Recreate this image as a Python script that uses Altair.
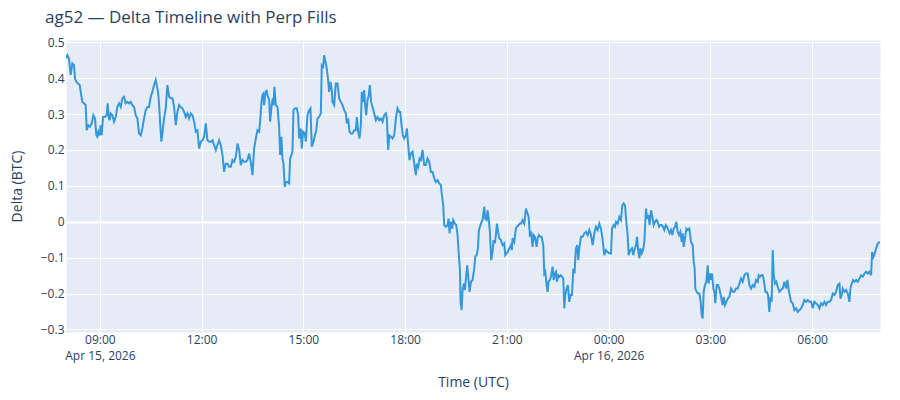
import altair as alt
import pandas as pd

TITLE = "ag52 — Delta Timeline with Perp Fills"

# (minutes after 2026-04-15 08:00 UTC, delta in BTC)
delta_0800_1100 = [
    (0, 0.455), (2.4, 0.464), (5.3, 0.455), (8.3, 0.409), (11.2, 0.441), (14.2, 0.436), (15.9, 0.399),
    (18.3, 0.390), (21.2, 0.385), (24.2, 0.381), (26.0, 0.362), (28.9, 0.334), (31.9, 0.330), (34.8, 0.325),
    (36.6, 0.255), (39.5, 0.269), (42.5, 0.265), (45.4, 0.274), (48.4, 0.297), (51.3, 0.288), (53.7, 0.241),
    (55.5, 0.237), (57.2, 0.251), (59.6, 0.241), (61.4, 0.269), (63.1, 0.241), (65.5, 0.292), (68.4, 0.292),
    (72.0, 0.297), (73.7, 0.330), (75.5, 0.292), (77.3, 0.283), (79.1, 0.302), (82.0, 0.297), (85.0, 0.279),
    (87.9, 0.292), (90.9, 0.320), (93.8, 0.330), (96.8, 0.320), (99.7, 0.344), (102.7, 0.348), (105.6, 0.330),
    (108.6, 0.334), (111.5, 0.330), (114.5, 0.334), (117.4, 0.325), (120.4, 0.320), (123.3, 0.297), (126.3, 0.288),
    (129.2, 0.246), (132.2, 0.241), (135.1, 0.260), (138.1, 0.288), (141.0, 0.311), (144.0, 0.320), (146.9, 0.320),
    (149.9, 0.348), (152.8, 0.362), (155.8, 0.381), (158.7, 0.395), (160.5, 0.381), (162.8, 0.362), (164.6, 0.330),
    (166.4, 0.279), (168.7, 0.223), (170.5, 0.246), (173.5, 0.288), (176.4, 0.316),
]
delta_1100_1400 = [
    (179.4, 0.381), (182.4, 0.348), (185.3, 0.344), (188.3, 0.344), (191.2, 0.320), (194.2, 0.269), (197.1, 0.306),
    (200.1, 0.325), (203.0, 0.320), (206.0, 0.316), (208.9, 0.306), (211.9, 0.292), (214.8, 0.302), (217.8, 0.288),
    (220.7, 0.302), (223.7, 0.297), (226.6, 0.279), (229.6, 0.251), (232.5, 0.255), (235.5, 0.204), (238.4, 0.223),
    (241.4, 0.227), (244.3, 0.237), (247.3, 0.274), (250.2, 0.227), (253.2, 0.223), (256.1, 0.223), (259.1, 0.227),
    (262.0, 0.214), (265.0, 0.200), (267.9, 0.214), (270.9, 0.227), (273.8, 0.214), (276.8, 0.186), (279.7, 0.139),
    (282.7, 0.162), (285.6, 0.162), (288.6, 0.153), (291.5, 0.153), (294.5, 0.172), (297.4, 0.167), (300.4, 0.181),
    (303.3, 0.218), (306.3, 0.200), (309.2, 0.158), (312.2, 0.172), (315.1, 0.167), (318.1, 0.167), (321.0, 0.172),
    (324.0, 0.190), (326.9, 0.167), (329.9, 0.130), (332.8, 0.204), (335.8, 0.232), (338.7, 0.255), (341.7, 0.251),
    (343.4, 0.279), (345.8, 0.334), (347.6, 0.353), (349.3, 0.357), (350.5, 0.325), (352.3, 0.353), (354.6, 0.367),
    (356.4, 0.353), (359.4, 0.339), (361.1, 0.279), (363.5, 0.320), (365.8, 0.344),
]
delta_1400_1700 = [
    (367.0, 0.325), (368.7, 0.376), (371.1, 0.325), (374.1, 0.320), (377.0, 0.265), (378.8, 0.186), (381.1, 0.237),
    (382.9, 0.176), (384.7, 0.162), (387.0, 0.097), (388.8, 0.111), (391.8, 0.111), (394.7, 0.107), (396.5, 0.176),
    (398.8, 0.186), (400.6, 0.195), (402.4, 0.311), (405.3, 0.316), (408.3, 0.316), (410.6, 0.297), (412.4, 0.232),
    (415.4, 0.260), (417.1, 0.204), (419.5, 0.251), (422.4, 0.246), (424.2, 0.223), (427.2, 0.297), (430.1, 0.311),
    (432.5, 0.316), (434.8, 0.209), (437.8, 0.223), (440.1, 0.241), (442.5, 0.251), (444.9, 0.288), (447.8, 0.292),
    (450.8, 0.302), (452.5, 0.436), (454.9, 0.432), (456.7, 0.464), (458.4, 0.450), (460.8, 0.432), (463.1, 0.404),
    (465.5, 0.362), (467.9, 0.390), (470.2, 0.367), (471.4, 0.334), (474.4, 0.325), (477.3, 0.385), (480.3, 0.385),
    (483.2, 0.344), (486.2, 0.334), (489.1, 0.325), (492.1, 0.311), (495.0, 0.302), (496.8, 0.274), (499.1, 0.288),
    (501.5, 0.251), (503.9, 0.246), (506.8, 0.246), (509.8, 0.255), (512.7, 0.255), (514.5, 0.292), (516.8, 0.251),
    (519.2, 0.232), (521.6, 0.269), (523.3, 0.362), (525.7, 0.334), (527.5, 0.367), (529.2, 0.325), (531.0, 0.297),
    (533.4, 0.339), (535.7, 0.353), (537.5, 0.381), (539.8, 0.334), (542.2, 0.320),
]
delta_1700_2000 = [
    (545.2, 0.302), (548.2, 0.283), (551.1, 0.292), (554.1, 0.283), (557.0, 0.288), (560.0, 0.279), (562.9, 0.297),
    (565.9, 0.302), (567.6, 0.288), (568.8, 0.241), (570.0, 0.200), (571.8, 0.241), (574.7, 0.237), (577.7, 0.232),
    (580.6, 0.241), (583.6, 0.288), (586.5, 0.316), (589.5, 0.306), (591.2, 0.306), (593.6, 0.269), (595.9, 0.241),
    (598.3, 0.232), (601.3, 0.241), (603.0, 0.260), (604.2, 0.237), (606.0, 0.200), (607.7, 0.172), (610.1, 0.190),
    (613.1, 0.195), (614.8, 0.176), (617.2, 0.149), (619.0, 0.130), (620.7, 0.162), (623.1, 0.153), (625.4, 0.176),
    (627.8, 0.172), (630.8, 0.200), (633.7, 0.158), (636.7, 0.158), (639.6, 0.176), (642.6, 0.167), (645.5, 0.139),
    (648.5, 0.139), (651.4, 0.121), (654.4, 0.111), (657.3, 0.116), (660.3, 0.107), (663.2, 0.102), (665.0, 0.074),
    (667.3, 0.046), (669.1, -0.009), (672.1, -0.014), (675.0, -0.009), (676.8, 0.009), (678.5, -0.032), (680.9, 0.000),
    (683.3, -0.019), (685.0, 0.005), (688.0, -0.005), (690.3, -0.009), (692.7, -0.037), (695.1, -0.097), (696.8, -0.130),
    (698.0, -0.223), (699.8, -0.246), (701.6, -0.190), (703.9, -0.172), (705.7, -0.190), (708.0, -0.149), (709.8, -0.121),
    (711.6, -0.153), (713.9, -0.195), (716.3, -0.167), (719.3, -0.162), (722.2, -0.130), (724.0, -0.097), (726.3, -0.093),
    (728.7, -0.074), (730.5, -0.023),
]
delta_2000_2300 = [
    (734.0, -0.005), (736.9, 0.005), (739.9, 0.042), (741.6, 0.009), (744.0, 0.005), (745.8, 0.032), (747.5, 0.014),
    (749.9, -0.028), (752.2, -0.107), (754.6, -0.084), (756.4, -0.051), (758.7, -0.060), (760.5, -0.037), (762.3, -0.005),
    (764.0, -0.023), (766.4, -0.046), (769.4, -0.051), (772.3, -0.065), (775.3, -0.060), (777.0, -0.093), (779.4, -0.088),
    (781.7, -0.084), (784.1, -0.074), (787.1, -0.065), (788.8, -0.079), (790.0, -0.046), (793.0, -0.056), (795.9, -0.019),
    (797.7, -0.014), (800.6, -0.009), (803.0, -0.005), (805.3, -0.005), (807.7, 0.005), (810.7, -0.005), (813.6, 0.037),
    (815.4, 0.028), (818.3, 0.014), (820.7, -0.037), (823.0, -0.032), (825.4, -0.070), (827.2, -0.037), (829.5, -0.042),
    (832.5, -0.070), (834.3, -0.046), (836.6, -0.037), (839.0, -0.042), (841.3, -0.042), (844.3, -0.065), (846.1, -0.144),
    (847.8, -0.139), (850.2, -0.176), (852.0, -0.195), (853.7, -0.167), (856.1, -0.162), (858.4, -0.149), (860.8, -0.125),
    (862.6, -0.162), (864.9, -0.144), (866.7, -0.139), (868.5, -0.167), (870.8, -0.149), (872.6, -0.153), (875.0, -0.149),
    (877.3, -0.153), (879.7, -0.158), (881.5, -0.241), (883.2, -0.204), (885.6, -0.186), (887.9, -0.176), (890.3, -0.223),
    (892.7, -0.204), (895.0, -0.204), (897.4, -0.135), (899.7, -0.139), (902.1, -0.074), (904.5, -0.065), (906.2, -0.107),
    (908.0, -0.074), (911.0, -0.042), (913.9, -0.042),
]
delta_2300_0200 = [
    (916.9, -0.032), (919.9, -0.028), (922.8, -0.037), (925.8, -0.023), (928.7, -0.037), (931.7, -0.065), (934.6, -0.032),
    (937.6, -0.014), (940.5, -0.023), (943.5, -0.005), (946.4, -0.019), (949.4, -0.051), (952.3, -0.093), (955.3, -0.079),
    (958.2, -0.084), (961.2, -0.088), (964.1, -0.088), (965.9, -0.019), (968.8, -0.009), (971.2, -0.014), (973.0, 0.000),
    (975.9, -0.005), (978.9, 0.014), (981.8, 0.005), (984.2, 0.046), (986.5, 0.051), (988.9, 0.046), (991.2, 0.000),
    (993.6, -0.037), (995.4, -0.093), (998.3, -0.079), (1001.3, -0.074), (1003.6, -0.093), (1005.4, -0.079), (1008.4, -0.065),
    (1010.1, -0.042), (1012.5, -0.084), (1014.3, -0.102), (1016.0, -0.074), (1018.4, -0.088), (1020.7, -0.079), (1023.1, -0.056),
    (1026.1, 0.037), (1027.8, 0.009), (1030.2, 0.019), (1032.5, -0.009), (1034.9, 0.032), (1037.3, 0.014), (1039.6, -0.009),
    (1042.0, 0.000), (1044.3, 0.005), (1046.7, 0.000), (1049.1, -0.014), (1051.4, -0.009), (1053.8, -0.009), (1056.1, -0.014),
    (1058.5, -0.023), (1060.9, -0.009), (1063.2, -0.014), (1065.6, -0.023), (1067.9, -0.032), (1070.3, -0.023), (1072.7, -0.037),
    (1075.0, -0.019), (1077.4, -0.014), (1079.7, 0.000), (1082.1, -0.028), (1084.5, -0.037), (1086.8, -0.028), (1089.2, -0.056),
    (1091.0, -0.032), (1092.7, -0.070), (1095.1, -0.046), (1097.4, -0.019), (1099.8, -0.023),
]
delta_0200_0500 = [
    (1102.7, -0.019), (1105.7, -0.056), (1108.6, -0.065), (1110.4, -0.111), (1112.1, -0.130), (1113.3, -0.186), (1115.7, -0.195),
    (1118.0, -0.200), (1120.4, -0.200), (1122.8, -0.223), (1124.5, -0.260), (1126.3, -0.269), (1128.1, -0.195), (1130.4, -0.176),
    (1132.8, -0.167), (1135.2, -0.121), (1136.9, -0.172), (1139.3, -0.144), (1141.1, -0.162), (1142.8, -0.144), (1145.2, -0.186),
    (1147.0, -0.195), (1148.7, -0.227), (1151.1, -0.176), (1153.4, -0.176), (1155.8, -0.186), (1158.8, -0.209), (1161.7, -0.232),
    (1163.5, -0.209), (1165.8, -0.232), (1168.2, -0.223), (1170.6, -0.214), (1173.5, -0.209), (1176.5, -0.186), (1179.4, -0.195),
    (1182.4, -0.195), (1185.3, -0.186), (1188.3, -0.186), (1191.2, -0.172), (1194.2, -0.158), (1197.1, -0.167), (1200.1, -0.149),
    (1203.0, -0.144), (1206.0, -0.144), (1208.9, -0.176), (1211.9, -0.186), (1214.8, -0.176), (1217.8, -0.181), (1220.7, -0.162),
    (1223.7, -0.167), (1225.4, -0.149), (1227.8, -0.153), (1230.1, -0.149), (1232.5, -0.149), (1234.9, -0.167), (1237.2, -0.195),
    (1239.6, -0.195), (1241.9, -0.204), (1244.3, -0.251), (1246.1, -0.209), (1248.4, -0.223), (1250.2, -0.079), (1252.0, -0.149),
    (1254.3, -0.172), (1256.7, -0.167), (1259.1, -0.181), (1262.0, -0.195), (1265.0, -0.190), (1267.9, -0.186), (1270.9, -0.167),
    (1273.8, -0.186), (1276.2, -0.162), (1278.5, -0.190),
]
delta_0500_0800 = [
    (1282.7, -0.223), (1285.6, -0.227), (1288.6, -0.246), (1291.5, -0.241), (1294.5, -0.251), (1297.4, -0.246), (1300.4, -0.241),
    (1303.3, -0.232), (1306.3, -0.218), (1309.2, -0.223), (1312.2, -0.218), (1315.1, -0.223), (1318.1, -0.223), (1321.0, -0.241),
    (1324.0, -0.223), (1326.9, -0.227), (1329.9, -0.232), (1332.8, -0.241), (1335.8, -0.227), (1338.7, -0.232), (1341.7, -0.223),
    (1344.6, -0.232), (1347.6, -0.223), (1350.5, -0.223), (1353.5, -0.218), (1356.4, -0.200), (1359.4, -0.204), (1362.3, -0.195),
    (1365.3, -0.176), (1368.2, -0.172), (1370.0, -0.214), (1372.3, -0.204), (1374.1, -0.186), (1377.1, -0.195), (1380.0, -0.190),
    (1383.0, -0.200), (1385.9, -0.223), (1387.7, -0.186), (1390.0, -0.172), (1392.4, -0.162), (1394.8, -0.167), (1397.7, -0.162),
    (1400.7, -0.167), (1403.6, -0.158), (1406.6, -0.149), (1409.5, -0.153), (1412.5, -0.144), (1415.4, -0.139), (1418.4, -0.144),
    (1421.3, -0.139), (1424.3, -0.149), (1426.0, -0.084), (1428.4, -0.097), (1430.7, -0.088), (1433.1, -0.074), (1436.1, -0.060),
    (1440.0, -0.056),
]

segments = [delta_0800_1100, delta_1100_1400, delta_1400_1700, delta_1700_2000,
            delta_2000_2300, delta_2300_0200, delta_0200_0500, delta_0500_0800]

START = pd.Timestamp("2026-04-15T08:00:00Z")
END = pd.Timestamp("2026-04-16T08:00:00Z")
tick_hours_after_start = [1, 4, 7, 10, 13, 16, 19, 22]
y_ticks = [-0.3, -0.2, -0.1, 0, 0.1, 0.2, 0.3, 0.4, 0.5]


def to_ms(ts):
    return int(ts.value // 10**6)


rows = []
for seg in segments:
    for m, v in seg:
        rows.append({"time": to_ms(START + pd.Timedelta(minutes=m)), "delta": v})
df = pd.DataFrame(rows)

x_ticks = [to_ms(START + pd.Timedelta(hours=h)) for h in tick_hours_after_start]

TEXT = "#2a3f5f"

label_expr = (
    "(utchours(datum.value) == 0 || (utchours(datum.value) == 9 && utcdate(datum.value) == 15)) "
    "? [utcFormat(datum.value, '%H:%M'), utcFormat(datum.value, '%b %-d, %Y')] "
    ": utcFormat(datum.value, '%H:%M')"
)

x_enc = alt.X(
    "time:T",
    scale=alt.Scale(type="utc", domain=[to_ms(START), to_ms(END)], nice=False),
    axis=alt.Axis(
        values=x_ticks,
        labelExpr=label_expr,
        labelPadding=2,
        labelBaseline="top",
        labelLineHeight=16,
        labelAlign="center",
        labelOverlap=False,
        labelFlush=False,
        labelFontSize=12,
        labelColor=TEXT,
        ticks=False,
        domain=False,
        grid=True,
        gridColor="white",
        gridWidth=1,
        title="Time (UTC)",
        titleFontSize=14,
        titleFontWeight="normal",
        titleColor=TEXT,
        titleX=407,
        titleY=50,
        titleAlign="center",
        titleBaseline="middle",
    ),
)

y_enc = alt.Y(
    "delta:Q",
    scale=alt.Scale(domain=[-0.307, 0.5064], nice=False, zero=False),
    axis=alt.Axis(
        values=y_ticks,
        format=".1~f",
        labelPadding=2,
        labelFontSize=12,
        labelColor=TEXT,
        ticks=False,
        domain=False,
        grid=True,
        gridColor="white",
        gridWidth={"condition": {"test": "datum.value === 0", "value": 2}, "value": 1},
        title="Delta (BTC)",
        titleFontSize=14,
        titleFontWeight="normal",
        titleColor=TEXT,
        titleX=-49,
        titleY=146,
        titleAngle=270,
        titleAlign="center",
        titleBaseline="middle",
    ),
)

line = (
    alt.Chart(df)
    .mark_line(color="#3498db", strokeWidth=2, clip=True)
    .encode(x=x_enc, y=y_enc)
)

title_text = (
    alt.Chart(pd.DataFrame({"label": [TITLE]}))
    .mark_text(align="left", baseline="alphabetic", fontSize=17, color=TEXT, font="Open Sans")
    .encode(text="label:N", x=alt.value(-21), y=alt.value(-17))
)

chart = (
    alt.layer(line, title_text)
    .properties(
        width=814,
        height=292,
        autosize=alt.AutoSizeParams(type="none"),
        padding={"left": 58, "top": 32, "right": 12, "bottom": 58},
    )
    .configure(font="Open Sans", background="white")
    .configure_view(fill="#E5ECF6", strokeOpacity=0)
)

chart.save("out.html", embed_options={"renderer": "svg", "actions": False})
